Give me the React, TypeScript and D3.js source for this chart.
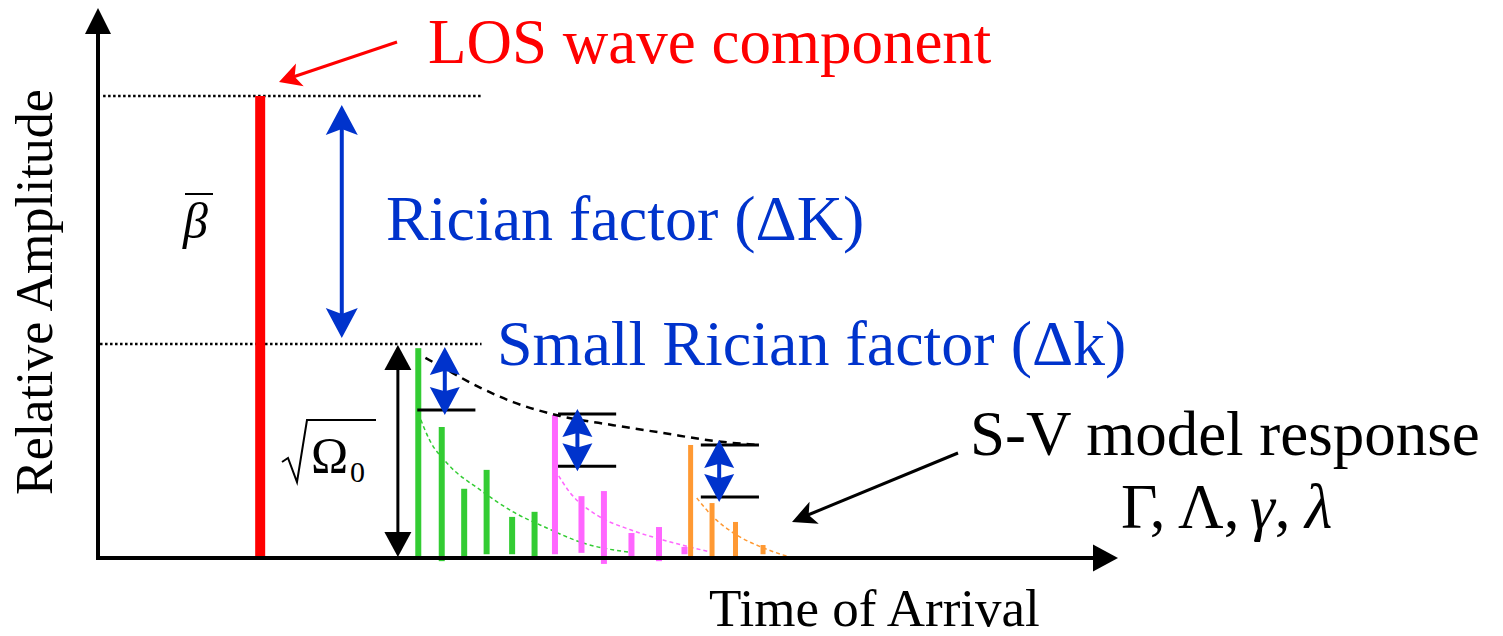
import React from 'react';
import * as d3 from 'd3';

// time of arrival (arbitrary units) and relative amplitude (LOS = 1)
const losTime = 15.9;
const losAmp = 1.0;
const clusterPeak = 0.462;

const greenTimes = [31.4, 33.7, 35.9, 38.1, 40.6, 42.8];
const greenAmps = [0.453, 0.282, 0.148, 0.189, 0.087, 0.098];
const greenBase = [-0.006, -0.009, -0.004, 0.006, 0.006, -0.002];

const pinkTimes = [44.8, 47.4, 49.6, 52.3, 55.0, 57.5];
const pinkAmps = [0.308, 0.132, 0.143, 0.052, 0.065, 0.022];
const pinkBase = [0.006, 0.009, -0.015, 0.002, -0.009, 0.006];

const orangeTimes = [58.1, 60.2, 62.5, 65.2];
const orangeAmps = [0.243, 0.117, 0.076, 0.026];
const orangeBase = [0.002, 0.0, -0.006, 0.006];

// cluster envelope (Γ) and ray decays (γ)
const envTimes = [32.1, 34.2, 37.5, 40.7, 45.3, 50.5, 55.4, 60.3, 64.7];
const envAmps = [0.432, 0.406, 0.367, 0.336, 0.306, 0.286, 0.269, 0.252, 0.243];
const greenDecayTimes = [31.4, 32.5, 34.2, 37.5, 40.7, 44.0, 47.2, 52.5];
const greenDecayAmps = [0.312, 0.254, 0.204, 0.145, 0.098, 0.063, 0.033, 0.009];
const pinkDecayTimes = [44.8, 46.3, 48.9, 52.2, 55.4, 60.0];
const pinkDecayAmps = [0.189, 0.139, 0.091, 0.059, 0.037, 0.011];
const orangeDecayTimes = [58.7, 60.3, 62.3, 65.2, 67.8];
const orangeDecayAmps = [0.128, 0.087, 0.052, 0.02, 0.0];

// small Rician factor markers per cluster
const kArrowTimes = [34.0, 47.0, 60.9];
const kLineStart = [31.3, 45.1, 59.1];
const kLineEnd = [37.0, 50.8, 64.8];
const kHigh = [0.462, 0.31, 0.243];
const kLow = [0.319, 0.197, 0.13];

const bigArrowTime = 23.9;
const omegaArrowTime = 29.4;
const dottedEnd = 37.6;

const W = 1503;
const H = 636;
const serif = '"Liberation Serif", "Times New Roman", serif';
const BLUE = '#0033cc';
const RED = '#ff0000';
const GREEN = '#33cc33';
const PINK = '#ff66ff';
const ORANGE = '#ff9933';

const x = d3.scaleLinear().domain([0, 100]).range([98, 1118]);
const y = d3.scaleLinear().domain([0, 1]).range([557, 96]);

function head(tx: number, ty: number, fx: number, fy: number, len: number, half: number, notch = 0.25) {
  const dx = tx - fx, dy = ty - fy;
  const d = Math.hypot(dx, dy);
  const ux = dx / d, uy = dy / d;
  const px = -uy, py = ux;
  const bx = tx - ux * len, by = ty - uy * len;
  const nx = tx - ux * len * (1 - notch), ny = ty - uy * len * (1 - notch);
  return `M${tx},${ty}L${bx + px * half},${by + py * half}L${nx},${ny}L${bx - px * half},${by - py * half}Z`;
}

const line = d3.line<[number, number]>().x(d => x(d[0])).y(d => y(d[1])).curve(d3.curveMonotoneX);
const zip = (t: number[], a: number[]) => t.map((v, i) => [v, a[i]] as [number, number]);

function Bars({ times, amps, base, color, w }: { times: number[]; amps: number[]; base: number[]; color: string; w: number }) {
  return (
    <g>
      {times.map((t, i) => (
        <rect key={i} x={x(t) - w / 2} y={y(amps[i])} width={w} height={y(base[i]) - y(amps[i])} fill={color} />
      ))}
    </g>
  );
}

function DoubleArrow({ cx, y1, y2, color, sw, len, half, notch }: any) {
  return (
    <g>
      <line x1={cx} x2={cx} y1={y1 + len * 0.6} y2={y2 - len * 0.6} stroke={color} strokeWidth={sw} />
      <path d={head(cx, y1, cx, y2, len, half, notch)} fill={color} />
      <path d={head(cx, y2, cx, y1, len, half, notch)} fill={color} />
    </g>
  );
}

export default function App() {
  const x0 = x(0);
  const y0 = y(0);
  return (
    <svg width={W} height={H} style={{ position: 'absolute', left: 0, top: 0, background: '#fff' }} fontFamily={serif}>
      {/* dotted reference levels */}
      <line x1={x(0.5)} x2={x(dottedEnd)} y1={y(losAmp)} y2={y(losAmp)} stroke="#000" strokeWidth={2.5} strokeDasharray="2.5,2.5" />
      <line x1={x(0.2)} x2={x(dottedEnd)} y1={y(clusterPeak)} y2={y(clusterPeak)} stroke="#000" strokeWidth={2.5} strokeDasharray="2.5,2.5" />

      {/* decay curves */}
      <path d={line(zip(greenDecayTimes, greenDecayAmps)) || ''} fill="none" stroke={GREEN} strokeWidth={1.5} strokeDasharray="4,3" />
      <path d={line(zip(pinkDecayTimes, pinkDecayAmps)) || ''} fill="none" stroke={PINK} strokeWidth={1.5} strokeDasharray="4,3" />
      <path d={line(zip(orangeDecayTimes, orangeDecayAmps)) || ''} fill="none" stroke={ORANGE} strokeWidth={1.5} strokeDasharray="4,3" />

      {/* LOS component */}
      <rect x={x(losTime) - 5} y={y(losAmp)} width={10} height={y0 - y(losAmp)} fill={RED} />

      {/* multipath clusters */}
      <Bars times={greenTimes} amps={greenAmps} base={greenBase} color={GREEN} w={6} />
      <Bars times={pinkTimes} amps={pinkAmps} base={pinkBase} color={PINK} w={6} />
      <Bars times={orangeTimes} amps={orangeAmps} base={orangeBase} color={ORANGE} w={5} />

      {/* cluster envelope */}
      <path d={line(zip(envTimes, envAmps)) || ''} fill="none" stroke="#000" strokeWidth={2.5} strokeDasharray="8,6" />

      {/* small Rician factor markers */}
      {kArrowTimes.map((t, i) => (
        <g key={i}>
          {i > 0 && <line x1={x(kLineStart[i])} x2={x(kLineEnd[i])} y1={y(kHigh[i])} y2={y(kHigh[i])} stroke="#000" strokeWidth={3} />}
          <line x1={x(kLineStart[i])} x2={x(kLineEnd[i])} y1={y(kLow[i])} y2={y(kLow[i])} stroke="#000" strokeWidth={3} />
          <DoubleArrow cx={x(t)} y1={y(kHigh[i]) - 5 + (i === 0 ? 8 : 0)} y2={y(kLow[i]) + 5} color={BLUE} sw={4} len={28} half={15} notch={0.15} />
        </g>
      ))}

      {/* Rician factor arrow */}
      <DoubleArrow cx={x(bigArrowTime)} y1={y(losAmp) + 9} y2={y(clusterPeak) - 6} color={BLUE} sw={4} len={30} half={16} notch={0.2} />

      {/* sqrt(Omega0) arrow */}
      <DoubleArrow cx={x(omegaArrowTime)} y1={y(clusterPeak) + 1} y2={y0} color="#000" sw={3} len={25} half={13.5} notch={0} />

      {/* axes */}
      <line x1={x0} x2={x0} y1={y0 + 2} y2={30} stroke="#000" strokeWidth={4} />
      <path d={head(x0, 8, x0, y0, 26, 13, 0)} fill="#000" />
      <line x1={x0 - 2} x2={1096} y1={y0 + 1} y2={y0 + 1} stroke="#000" strokeWidth={4} />
      <path d={head(1118, y0 + 1, x0, y0 + 1, 25, 13.5, 0)} fill="#000" />

      {/* LOS annotation */}
      <line x1={397} y1={42} x2={290} y2={78} stroke={RED} strokeWidth={3} />
      <path d={head(279, 82, 397, 42, 22, 12, 0.25)} fill={RED} />
      <text x={428} y={63} fontSize={63} fill={RED}>LOS wave component</text>

      <text x={386} y={240} fontSize={64} fill={BLUE}>Rician factor (ΔK)</text>
      <text x={497} y={365} fontSize={64} fill={BLUE}>Small Rician factor (Δk)</text>

      {/* S-V annotation */}
      <line x1={958} y1={453} x2={803} y2={517} stroke="#000" strokeWidth={3} />
      <path d={head(792, 522, 958, 453, 24, 12, 0.25)} fill="#000" />
      <text x={970} y={455} fontSize={63} fill="#000">S-V model response</text>
      <text y={528} fontSize={63} fill="#000">
        <tspan x={1121}>Γ,</tspan>
        <tspan x={1178}>Λ,</tspan>
        <tspan x={1250} fontStyle="italic">γ</tspan>
        <tspan>,</tspan>
        <tspan x={1305} fontStyle="italic">λ</tspan>
      </text>

      {/* beta bar */}
      <text x={183} y={238} fontSize={50} fontStyle="italic" fill="#000">β</text>
      <line x1={185} x2={213} y1={194} y2={194} stroke="#000" strokeWidth={2} />

      {/* sqrt Omega0 */}
      <path d="M282,462L288,458L297,482L307,420L376,420" fill="none" stroke="#000" strokeWidth={2} />
      <text x={311} y={472} fontSize={50} fill="#000">Ω</text>
      <text x={350} y={482} fontSize={30} fill="#000">0</text>

      {/* axis labels */}
      <text x={709} y={626} fontSize={53} fill="#000">Time of Arrival</text>
      <text transform="translate(52,292) rotate(-90)" textAnchor="middle" fontSize={52} fill="#000">Relative Amplitude</text>
    </svg>
  );
}
